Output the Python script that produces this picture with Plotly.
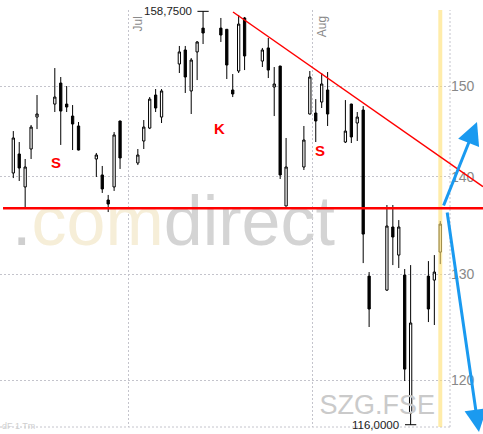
import math
import pandas as pd
import plotly.graph_objects as go

# ---------------- data ----------------
dates = [
    "2007-06-11", "2007-06-12", "2007-06-13", "2007-06-14", "2007-06-15",
    "2007-06-18", "2007-06-19", "2007-06-20", "2007-06-21", "2007-06-22",
    "2007-06-25", "2007-06-26", "2007-06-27", "2007-06-28", "2007-06-29",
    "2007-07-02", "2007-07-03", "2007-07-04", "2007-07-05", "2007-07-06",
    "2007-07-09", "2007-07-10", "2007-07-11", "2007-07-12", "2007-07-13",
    "2007-07-16", "2007-07-17", "2007-07-18", "2007-07-19", "2007-07-20",
    "2007-07-23", "2007-07-24", "2007-07-25", "2007-07-26", "2007-07-27",
    "2007-07-30", "2007-07-31", "2007-08-01", "2007-08-02", "2007-08-03",
    "2007-08-06", "2007-08-07", "2007-08-08", "2007-08-09", "2007-08-10",
    "2007-08-13", "2007-08-14", "2007-08-15", "2007-08-16", "2007-08-17",
    "2007-08-20", "2007-08-21", "2007-08-22",
]
opens = [
    140.42, 142.46, 138.94, 143.00, 146.51, 147.96, 150.34, 147.96, 146.62, 145.52,
    141.92, 140.21, 137.57, 138.94, 146.07, 141.49, 143.87, 145.29, 148.98, 146.51,
    152.53, 154.16, 149.44, 153.93, 156.74, 156.74, 156.60, 149.55, 151.72, 157.95,
    152.87, 154.40, 149.89, 152.29, 136.95, 141.06, 146.85, 146.96, 148.19, 149.55,
    143.76, 147.96, 145.85, 147.29, 129.85, 128.48, 134.78, 131.94, 129.95, 117.03,
    129.85, 129.46, 132.24,
]
highs = [
    144.96, 143.76, 141.92, 145.63, 148.98, 152.06, 151.03, 150.00, 147.85, 145.96,
    142.57, 141.17, 138.10, 144.85, 146.10, 143.00, 146.18, 148.75, 149.66, 149.66,
    154.63, 154.63, 153.22, 155.21, 158.75, 157.95, 156.63, 151.37, 158.31, 158.07,
    154.40, 155.57, 152.18, 152.32, 144.20, 145.52, 151.72, 148.52, 151.49, 151.60,
    148.41, 148.00, 147.07, 147.74, 130.25, 137.05, 137.05, 135.49, 130.55, 130.94,
    131.34, 131.94, 135.39,
]
lows = [
    139.88, 139.57, 136.74, 141.92, 145.18, 147.07, 143.44, 147.07, 142.89, 142.85,
    139.99, 138.31, 136.32, 138.52, 140.85, 141.27, 143.00, 145.18, 147.07, 145.85,
    151.49, 149.21, 146.85, 150.68, 154.86, 155.10, 150.80, 148.75, 151.49, 151.83,
    152.18, 150.91, 146.62, 139.78, 136.90, 140.74, 146.80, 143.76, 147.52, 145.52,
    143.65, 143.65, 143.87, 131.14, 124.93, 128.40, 130.94, 130.65, 119.91, 116.00,
    125.40, 125.12, 131.04,
]
closes = [
    144.20, 140.95, 141.06, 145.40, 146.85, 148.75, 147.18, 147.63, 145.74, 142.89,
    142.35, 138.73, 137.15, 144.53, 142.03, 142.35, 145.40, 148.52, 147.52, 149.44,
    153.93, 151.03, 152.99, 155.10, 156.16, 155.92, 152.41, 149.10, 157.22, 153.46,
    154.16, 151.83, 150.23, 140.21, 141.06, 143.98, 151.03, 146.07, 150.23, 146.85,
    144.96, 144.31, 146.51, 134.06, 126.65, 134.88, 133.76, 134.78, 121.00, 125.31,
    126.65, 130.25, 135.08,
]

y_ticks = [120, 130, 140, 150]
month_starts = ["2007-07-01", "2007-08-01"]
month_labels = ["Jul", "Aug"]
x_range = ["2007-06-09 06:10", "2007-08-24 03:20"]
y_range = [115.80, 158.91]

support_level = 136.7            # red horizontal line
trend_prices = [158.67, 138.96]  # red falling trend line (start, end)
high_label = "158,7500"
low_label = "116,0000"
pattern_labels = ["S", "K", "S"]
symbol_label = "SZG.FSE"

# ---------------- figure ----------------
x = pd.to_datetime(dates) + pd.Timedelta(hours=12)
FONT = "Liberation Sans, Arial, sans-serif"
GRID = "#c4c4cc"
BLUE = "#1a9af0"
RED = "#ff0000"

fig = go.Figure()

# watermarks (drawn under the candles and lines)
fig.add_trace(go.Scatter(
    x=[pd.Timestamp("2007-07-08 12:25")], y=[134.78], mode="text",
    text=['<span style="color:#cfcfcf">.</span><span style="color:#f6eed8">com</span>'
          '<span style="color:#d4d4d4">direct</span>'],
    textfont=dict(family=FONT, size=70), textposition="middle center",
    hoverinfo="skip", showlegend=False))
fig.add_trace(go.Scatter(
    x=[pd.Timestamp("2007-08-11 21:00")], y=[117.57], mode="text",
    text=[symbol_label], textfont=dict(family=FONT, size=27, color="#cacaca"),
    textposition="middle center", hoverinfo="skip", showlegend=False))

fig.add_trace(go.Candlestick(
    x=x, open=opens, high=highs, low=lows, close=closes,
    increasing=dict(line=dict(color="black", width=1), fillcolor="white"),
    decreasing=dict(line=dict(color="black", width=1), fillcolor="black"),
    whiskerwidth=0, hoverinfo="skip", showlegend=False))

i_hi = highs.index(max(highs))
i_lo = lows.index(min(lows))
day = pd.Timedelta(days=1)

shapes = [
    # plot frame (right, bottom), dotted
    dict(type="line", xref="paper", yref="paper", x0=1, x1=1, y0=0, y1=1,
         line=dict(color=GRID, width=1, dash="2px,2px")),
    dict(type="line", xref="paper", yref="paper", x0=0, x1=1, y0=0, y1=0,
         line=dict(color=GRID, width=1, dash="2px,2px")),
    # today's band
    dict(type="rect", xref="x", yref="paper",
         x0=x[-1] - pd.Timedelta(hours=8), x1=x[-1] + pd.Timedelta(hours=8),
         y0=0, y1=1, fillcolor="#ffe070", opacity=0.6, line=dict(width=0),
         layer="above"),
    # support line
    dict(type="line", xref="paper", yref="y", x0=0.0067, x1=1.0733,
         y0=support_level, y1=support_level, line=dict(color=RED, width=2.5)),
    # falling trend line
    dict(type="line", xref="paper", yref="y", x0=0.5178, x1=1.0733,
         y0=trend_prices[0], y1=trend_prices[1], line=dict(color=RED, width=1.5)),
    # max / min markers
    dict(type="line", xref="x", yref="y", x0=x[i_hi] - 0.95 * day, x1=x[i_hi] + 0.95 * day,
         y0=highs[i_hi], y1=highs[i_hi], line=dict(color="black", width=1)),
    dict(type="line", xref="x", yref="y", x0=x[i_lo] - 0.95 * day, x1=x[i_lo] + 0.95 * day,
         y0=lows[i_lo], y1=lows[i_lo], line=dict(color="black", width=1)),
]

annotations = []
for ms, ml in zip(month_starts, month_labels):
    annotations.append(dict(
        x=ms, y=1, xref="x", yref="paper", text=ml, showarrow=False,
        textangle=-90, xanchor="left", yanchor="top", xshift=0, yshift=-4,
        font=dict(family=FONT, size=12, color="#8a8a8a")))

annotations.append(dict(
    x=x[i_hi] - 1.55 * day, y=math.log10(highs[i_hi]), xref="x", yref="y",
    text=high_label, showarrow=False, xanchor="right", yanchor="middle",
    font=dict(family=FONT, size=11.5, color="#222222")))
annotations.append(dict(
    x=x[i_lo] - 1.6 * day, y=math.log10(lows[i_lo]), xref="x", yref="y",
    text=low_label, showarrow=False, xanchor="right", yanchor="middle",
    font=dict(family=FONT, size=11.5, color="#222222")))

for lbl, px, py in zip(pattern_labels, [0.1089, 0.4867, 0.7267], [0.6331, 0.7410, 0.6619]):
    annotations.append(dict(
        x=px, y=py, xref="paper", yref="paper", text="<b>%s</b>" % lbl,
        showarrow=False, font=dict(family=FONT, size=15, color=RED)))

annotations.append(dict(
    x=0, y=0, xref="paper", yref="paper", text="dF 1 Tm", showarrow=False,
    xanchor="left", yanchor="bottom", yshift=-6,
    font=dict(family=FONT, size=9, color="#cfcfcf")))

# hand-drawn blue arrows
annotations.append(dict(
    x=1.06, y=0.7314, xref="paper", yref="paper", text="", showarrow=True,
    ax=-34, ay=85, arrowhead=2, arrowsize=1.5, arrowwidth=3, arrowcolor=BLUE))
annotations.append(dict(
    x=1.0644, y=-0.012, xref="paper", yref="paper", text="", showarrow=True,
    ax=-32, ay=-221, arrowhead=2, arrowsize=1.5, arrowwidth=3, arrowcolor=BLUE))

fig.update_layout(
    width=483, height=434,
    margin=dict(l=0, r=33, t=10, b=7),
    paper_bgcolor="white", plot_bgcolor="white",
    showlegend=False, hovermode=False,
    boxgap=0.45,
    shapes=shapes, annotations=annotations,
    xaxis=dict(
        type="date", range=x_range, tickvals=month_starts, showticklabels=False,
        showgrid=True, gridcolor=GRID, griddash="2px,2px", gridwidth=1,
        zeroline=False, showline=False, ticks="", fixedrange=True,
        rangeslider=dict(visible=False)),
    yaxis=dict(
        type="log", side="right",
        range=[math.log10(y_range[0]), math.log10(y_range[1])],
        tickvals=y_ticks, ticktext=[str(v) for v in y_ticks],
        tickfont=dict(family=FONT, size=14, color="#888888"),
        showgrid=True, gridcolor=GRID, griddash="2px,2px", gridwidth=1,
        zeroline=False, showline=False, ticks="", fixedrange=True),
)

fig.write_html("out.html", config={"displayModeBar": False},
               post_script="document.body.style.margin='0px';")
